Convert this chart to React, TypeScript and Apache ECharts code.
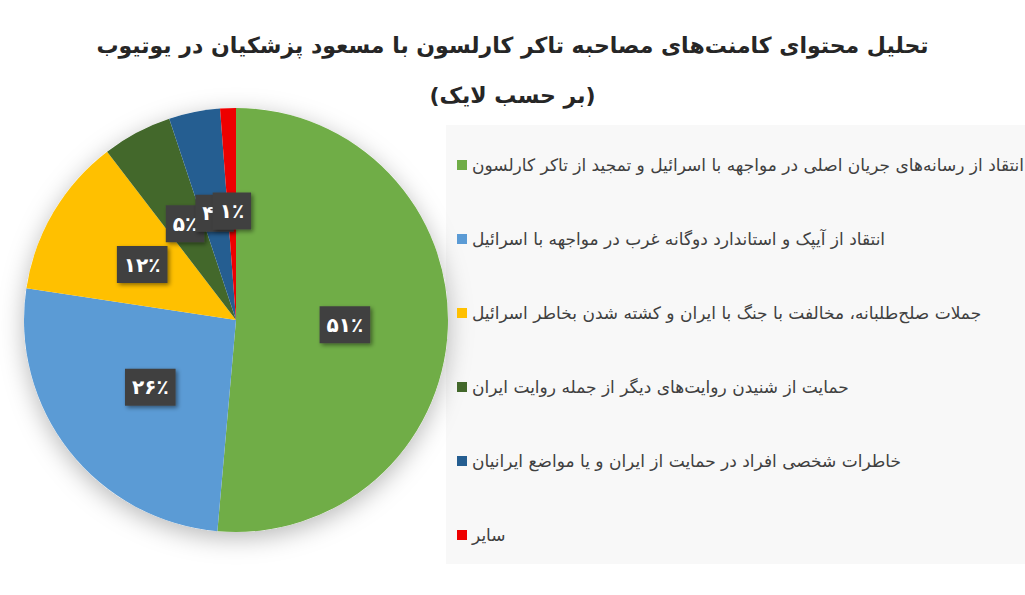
import React, { useEffect, useRef } from 'react'
import * as echarts from 'echarts'

/*==================================================================
    DATA
==================================================================*/
const TITLE = 'تحلیل محتوای کامنت‌های مصاحبه تاکر کارلسون با مسعود پزشکیان در یوتیوب'
const SUBTITLE = '(بر حسب لایک)'

const CATEGORIES = [
  'انتقاد از رسانه‌های جریان اصلی در مواجهه با اسرائیل و تمجید از تاکر کارلسون',
  'انتقاد از آیپک و استاندارد دوگانه غرب در مواجهه با اسرائیل',
  'جملات صلح‌طلبانه، مخالفت با جنگ با ایران و کشته شدن بخاطر اسرائیل',
  'حمایت از شنیدن روایت‌های دیگر از جمله روایت ایران',
  'خاطرات شخصی افراد در حمایت از ایران و یا مواضع ایرانیان',
  'سایر',
]
const VALUES = [51.4, 26.0, 12.2, 5.3, 3.9, 1.2]
const COLORS = ['#70ad47', '#5b9bd5', '#ffc000', '#43682b', '#255e91', '#ee0000']

/*==================================================================
    HELPERS
==================================================================*/
const FA_DIGITS = '۰۱۲۳۴۵۶۷۸۹'
const toFa = (n: number) => String(n).replace(/\d/g, (d) => FA_DIGITS[Number(d)])

const FONT = "'DejaVu Sans', sans-serif"

/*==================================================================
    APP
==================================================================*/
export default function App() {
  const ref = useRef<HTMLDivElement>(null)

  useEffect(() => {
    if (!ref.current) return
    const chart = echarts.init(ref.current, undefined, { renderer: 'svg' })

    const option: echarts.EChartsOption = {
      animation: false,
      backgroundColor: '#fff',
      title: [
        { text: TITLE, left: 'center', top: 29, textStyle: { fontFamily: FONT, fontSize: 22, fontWeight: 'bold', color: '#262626' } },
        { text: SUBTITLE, left: 'center', top: 79, textStyle: { fontFamily: FONT, fontSize: 22, fontWeight: 'bold', color: '#262626' } },
      ],
      graphic: [
        { type: 'rect', left: 446, top: 125, shape: { width: 600, height: 439 }, style: { fill: '#f8f8f8' }, z: -1 },
      ],
      legend: {
        orient: 'vertical',
        left: 452,
        top: 150,
        itemWidth: 10,
        itemHeight: 10,
        itemGap: 54,
        icon: 'rect',
        data: CATEGORIES,
        textStyle: { fontFamily: FONT, fontSize: 17, lineHeight: 20, color: '#404040' },
      },
      series: [
        {
          type: 'pie',
          silent: true,
          center: [236, 320],
          radius: 212,
          z: 1,
          label: { show: false },
          itemStyle: { color: '#fff', shadowBlur: 24, shadowColor: 'rgba(0,0,0,0.28)', shadowOffsetY: 6 },
          data: [{ name: '_bg', value: 1 }],
        },
        {
          type: 'pie',
          center: [236, 320],
          radius: 212,
          z: 2,
          startAngle: 90,
          clockwise: true,
          avoidLabelOverlap: false,
          labelLayout: { hideOverlap: false },
          labelLine: { show: false },
          label: {
            show: true,
            position: 'inside',
            formatter: (p: any) => toFa(Math.round(p.value)) + '٪',
            fontFamily: FONT,
            fontSize: 20,
            lineHeight: 22,
            fontWeight: 'bold',
            color: '#fff',
            backgroundColor: '#404040',
            padding: [8, 7, 7, 7],
            shadowColor: 'rgba(0,0,0,0.45)',
            shadowBlur: 4,
            shadowOffsetX: 2,
            shadowOffsetY: 2,
          },
          data: CATEGORIES.map((name, i) => ({ name, value: VALUES[i], itemStyle: { color: COLORS[i] } })),
        },
      ],
    }

    chart.setOption(option)
    return () => { chart.dispose() }
  }, [])

  return <div ref={ref} style={{ position: 'fixed', left: 0, top: 0, width: 1025, height: 595 }} />
}
